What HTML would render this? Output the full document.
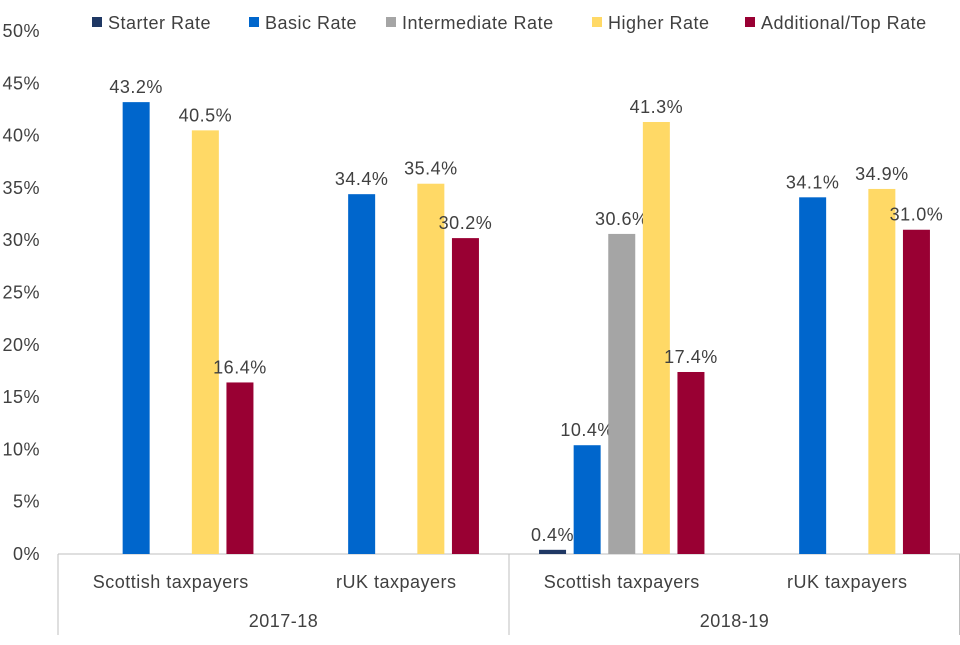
<!DOCTYPE html>
<html><head><meta charset="utf-8"><style>
html,body{margin:0;padding:0;background:#fff;}
svg text{font-family:"Liberation Sans",sans-serif;fill:#404040;letter-spacing:0.5px;}
</style></head><body>
<svg id="chart" width="960" height="640" viewBox="0 0 960 640" xmlns="http://www.w3.org/2000/svg"></svg>
<script>
const seriesNames = ["Starter Rate","Basic Rate","Intermediate Rate","Higher Rate","Additional/Top Rate"];
const seriesColors = ["#1F3864","#0066CC","#A5A5A5","#FFD966","#990033"];
const categories = ["Scottish taxpayers","rUK taxpayers","Scottish taxpayers","rUK taxpayers"];
const years = ["2017-18","2018-19"];
const starterVals = [null,null,0.4,null];
const basicVals = [43.2,34.4,10.4,34.1];
const intermediateVals = [null,null,30.6,null];
const higherVals = [40.5,35.4,41.3,34.9];
const additionalVals = [16.4,30.2,17.4,31.0];
const yTicks = [0,5,10,15,20,25,30,35,40,45,50];

const svg = document.getElementById('chart');
const NS = "http://www.w3.org/2000/svg";
function mk(tag, attrs, parent){const e=document.createElementNS(NS,tag);for(const k in attrs)e.setAttribute(k,attrs[k]);(parent||svg).appendChild(e);return e;}
const x0=58,x1=960,y0=554,yTop=31;
const y = v => y0 - v/50*(y0-yTop);
const groupW=(x1-x0)/categories.length;
const slot=34.6, bw=27;
const xc = (g,s) => x0+groupW*(g+0.5)+(s-2)*slot;
const FS=18;

yTicks.forEach(t=>{
  const tx=mk('text',{x:40,y:y(t)+6,'text-anchor':'end','font-size':FS});
  tx.textContent=t+'%';
  
  
});
const axis=mk('line',{x1:x0,x2:x1,y1:y0,y2:y0,stroke:'#bfbfbf','stroke-width':1});


[x0,(x0+x1)/2,x1-0.5].forEach(xx=>{
  const l=mk('line',{x1:xx,x2:xx,y1:y0,y2:635,stroke:'#bfbfbf','stroke-width':1});
  
  
});
categories.forEach((c,g)=>{
  const t=mk('text',{x:x0+groupW*(g+0.5),y:588,'text-anchor':'middle','font-size':FS});
  t.textContent=c;
  
  
});
years.forEach((yr,i)=>{
  const t=mk('text',{x:x0+groupW*(2*i+1),y:627,'text-anchor':'middle','font-size':FS});
  t.textContent=yr;
  
  
});
const allSeries=[starterVals,basicVals,intermediateVals,higherVals,additionalVals];
allSeries.forEach((vals,s)=>{
  vals.forEach((v,g)=>{
    if(v===null)return;
    const cx=xc(g,s);
    const r=mk('rect',{x:cx-bw/2,y:y(v),width:bw,height:y0-y(v),fill:seriesColors[s]});
    
    
    const t=mk('text',{x:cx,y:y(v)-9,'text-anchor':'middle','font-size':FS});
    t.textContent=v.toFixed(1)+'%';
    
    
  });
});
const legendX=[92,249,386,592,745];
seriesNames.forEach((n,i)=>{
  const g=mk('g',{});
  
  
  mk('rect',{x:legendX[i],y:17,width:10,height:10,fill:seriesColors[i]},g);
  const t=mk('text',{x:legendX[i]+16,y:29,'font-size':FS},g);
  t.textContent=n;
});
</script>
</body></html>
